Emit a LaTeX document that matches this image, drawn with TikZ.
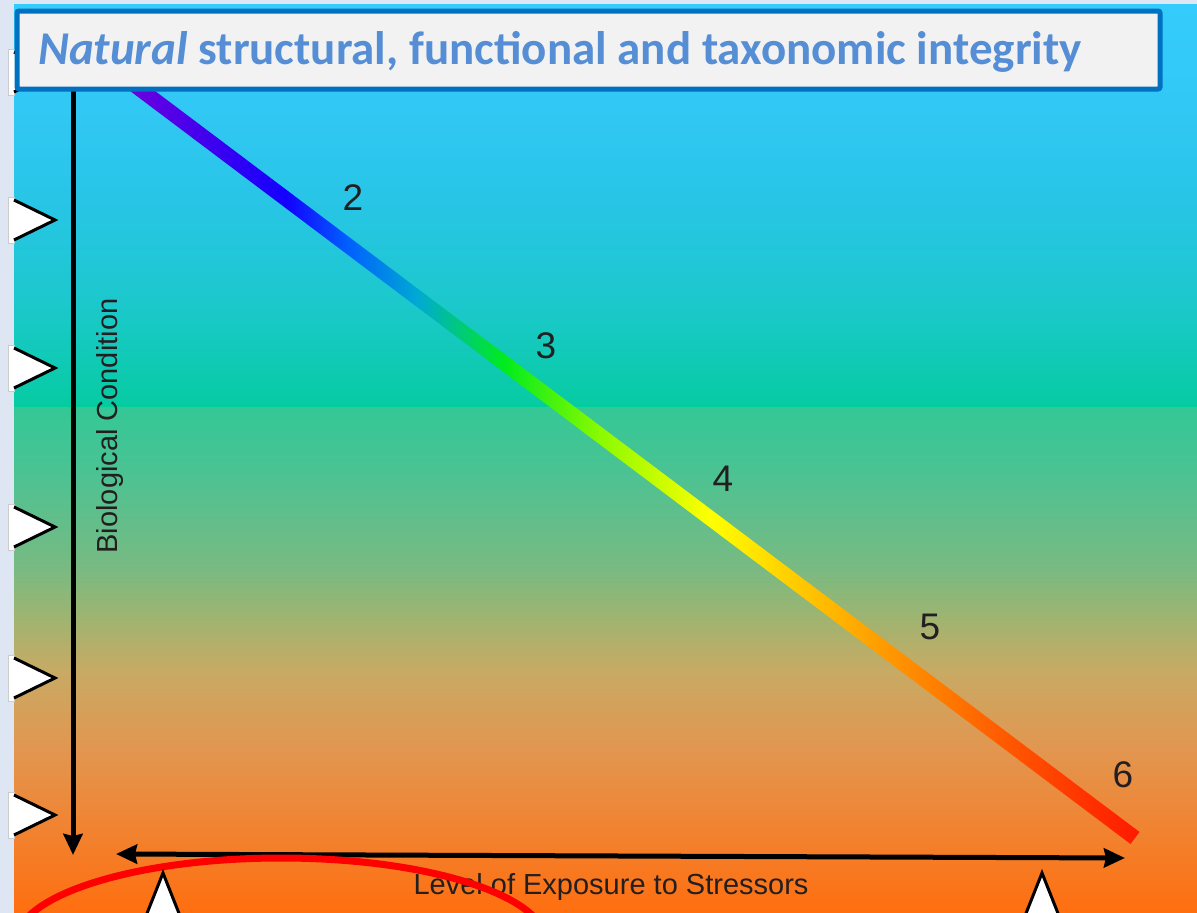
\documentclass[tikz,border=0pt]{standalone}
\usepackage{fontspec}
\setmainfont{Liberation Sans}
\newfontfamily\titlefont{Carlito}
\usetikzlibrary{arrows.meta}

\definecolor{strip}{RGB}{221,230,242}
\definecolor{uA}{RGB}{52,204,252}
\definecolor{uB}{RGB}{50,200,246}
\definecolor{uC}{RGB}{40,197,230}
\definecolor{uD}{RGB}{28,200,205}
\definecolor{uE}{RGB}{8,203,165}
\definecolor{uF}{RGB}{0,205,155}
\pgfdeclareverticalshading{upperbg}{100bp}{color(0bp)=(uF); color(25bp)=(uF); color(25.9bp)=(uE); color(38.3bp)=(uD); color(50.7bp)=(uC); color(63.1bp)=(uB); color(75bp)=(uA); color(100bp)=(uA)}
\definecolor{bgA}{RGB}{255,110,15}
\definecolor{bgB}{RGB}{240,132,50}
\definecolor{bgC}{RGB}{226,150,80}
\definecolor{bgD}{RGB}{200,170,100}
\definecolor{bgE}{RGB}{160,180,112}
\definecolor{bgF}{RGB}{120,186,130}
\definecolor{bgG}{RGB}{72,195,148}
\definecolor{bgH}{RGB}{52,200,150}
\pgfdeclareverticalshading{lowerbg}{100bp}{color(0bp)=(bgA); color(25bp)=(bgA); color(33.7bp)=(bgB); color(41.2bp)=(bgC); color(48.9bp)=(bgD); color(54bp)=(bgE); color(59.2bp)=(bgF); color(69.3bp)=(bgG); color(75bp)=(bgH); color(100bp)=(bgH)}

\definecolor{rA}{RGB}{110,0,220}
\definecolor{rB}{RGB}{20,0,255}
\definecolor{rC}{RGB}{0,95,255}
\definecolor{rD}{RGB}{0,170,210}
\definecolor{rE}{RGB}{0,235,30}
\definecolor{rF}{RGB}{140,250,0}
\definecolor{rG}{RGB}{255,255,0}
\definecolor{rH}{RGB}{255,200,0}
\definecolor{rI}{RGB}{255,150,0}
\definecolor{rJ}{RGB}{255,90,0}
\definecolor{rK}{RGB}{255,25,0}
\pgfdeclarehorizontalshading{rainbowline}{100bp}{color(0bp)=(rA); color(25bp)=(rA); color(33bp)=(rB); color(36bp)=(rC); color(39.5bp)=(rD); color(43.7bp)=(rE); color(48.5bp)=(rF); color(53.9bp)=(rG); color(58.3bp)=(rH); color(62.8bp)=(rI); color(68.3bp)=(rJ); color(75bp)=(rK); color(100bp)=(rK)}

\definecolor{titleblue}{RGB}{85,142,213}
\definecolor{boxblue}{RGB}{0,112,192}
\definecolor{boxfill}{RGB}{242,242,242}
\definecolor{ink}{RGB}{35,31,32}

\tikzset{
  tab/.style={fill=white, draw=black!20, line width=0.8pt},
  tri/.style={fill=white},
  triedge/.style={draw=black, line width=3pt, line join=miter},
  axisarrow/.style={line width=5pt, draw=black, >={Stealth[length=21pt, width=19pt, inset=2pt]}},
  lbl/.style={text=ink, inner sep=0pt, font=\fontsize{29}{31}\selectfont},
  num/.style={text=ink, inner sep=0pt, font=\fontsize{37}{39}\selectfont},
}

\begin{document}
\begin{tikzpicture}[x=1pt, y=-1pt]
\useasboundingbox (0,0) rectangle (1197,913);
\clip (0,0) rectangle (1197,913);
\fill[strip] (0,0) rectangle (1197,913);
% background gradient
\shade[shading=upperbg] (14,4) rectangle (1197,407.5);
\shade[shading=lowerbg] (14,407) rectangle (1197,913);

% left tabs with triangles
\foreach \c in {72,220,368,527,678,815}{
  \draw[tab] (8,\c-23) rectangle (14,\c+23);
  \fill[tri] (13,\c-20) -- (55,\c) -- (13,\c+20) -- cycle;
  \draw[triedge] (14,\c-20) -- (55,\c) -- (14,\c+20);
}

% rainbow line
\node[shade, shading=rainbowline, rotate=-36.97, minimum width=1260.4pt, minimum height=15pt, inner sep=0pt, outer sep=0pt, anchor=west] (line) at (128,80) {};

% numbers
\node[num] (n2) at (353,198) {2};
\node[num] (n3) at (546,346) {3};
\node[num] (n4) at (723,479) {4};
\node[num] (n5) at (930,627) {5};
\node[num] (n6) at (1123,775) {6};

% axes
\coordinate (vtop) at (73,85);
\coordinate (vbot) at (73,855);
\draw[axisarrow, ->] (vtop) -- (vbot);
\coordinate (hleft) at (116,854);
\coordinate (hright) at (1125,858);
\draw[axisarrow, <->] (hleft) -- (hright);

\node[lbl, rotate=90] (ylab) at (110,426) {Biological Condition};
\node[lbl] (xlab) at (611,887) {Level of Exposure to Stressors};

% red ellipse
\draw[red, line width=7pt] (281,942) ellipse [x radius=265, y radius=84];

% bottom triangles
\foreach \xx/\yy in {163/873, 1042/873}{
  \fill[tri] (\xx-23,\yy+58) -- (\xx,\yy) -- (\xx+23,\yy+58) -- cycle;
  \draw[triedge] (\xx-23,\yy+58) -- (\xx,\yy) -- (\xx+23,\yy+58);
}

% title box
\node[draw=boxblue, fill=boxfill, line width=5pt, rounded corners=2pt, minimum width=1143pt, minimum height=78pt, inner sep=0pt, anchor=north west] (titlebox) at (14.5,8.5) {};
\node[anchor=base west, inner sep=0pt, text=titleblue, font=\titlefont\bfseries\fontsize{47}{50}\selectfont] (title) at (38,64) {\itshape Natural\upshape\ structural, functional and taxonomic integrity};
\end{tikzpicture}
\end{document}
